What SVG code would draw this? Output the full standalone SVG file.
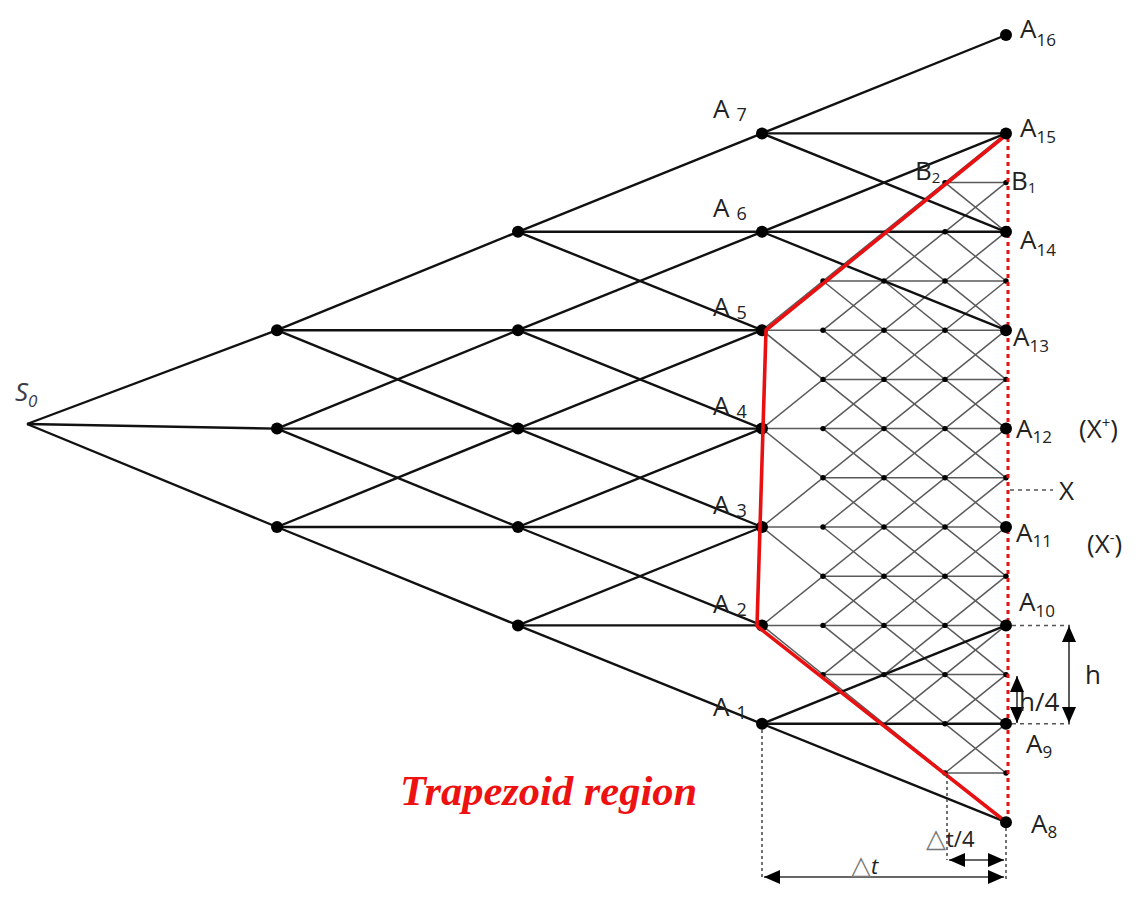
<svg xmlns="http://www.w3.org/2000/svg" width="1136" height="900" viewBox="0 0 1136 900">
<style>
.t{stroke:#111;stroke-width:2.4;fill:none}
.g{stroke:#5a5a5a;stroke-width:1.5;fill:none}
.bd{fill:#000}
.fn{fill:#000}
.lb{font-family:"Open Sans","DejaVu Sans",sans-serif;fill:#222;font-size:26px}
.sb{font-size:17px}
.dim{stroke:#333;stroke-width:1.6;fill:none}
.dot{stroke:#444;stroke-width:1.5;stroke-dasharray:3 3;fill:none}
.dash{stroke:#555;stroke-width:1.5;stroke-dasharray:4 4;fill:none}
</style>
<defs>
<marker id="ah" viewBox="0 0 16 14" refX="16" refY="7" markerWidth="16" markerHeight="14" markerUnits="userSpaceOnUse" orient="auto-start-reverse"><path d="M0,0 L16,7 L0,14 z" fill="#000"/></marker>
</defs>
<rect width="1136" height="900" fill="#fff"/>

<g id="lattice">
<line class="g" x1="945" y1="182.6" x2="1006" y2="182.6"/>
<line class="g" x1="884" y1="231.8" x2="1006" y2="231.8"/>
<line class="g" x1="823" y1="281" x2="1006" y2="281"/>
<line class="g" x1="762" y1="330.2" x2="1006" y2="330.2"/>
<line class="g" x1="823" y1="379.4" x2="1006" y2="379.4"/>
<line class="g" x1="762" y1="428.6" x2="1006" y2="428.6"/>
<line class="g" x1="823" y1="477.8" x2="1006" y2="477.8"/>
<line class="g" x1="762" y1="527" x2="1006" y2="527"/>
<line class="g" x1="823" y1="576.2" x2="1006" y2="576.2"/>
<line class="g" x1="762" y1="625.4" x2="1006" y2="625.4"/>
<line class="g" x1="823" y1="674.6" x2="1006" y2="674.6"/>
<line class="g" x1="884" y1="723.8" x2="1006" y2="723.8"/>
<line class="g" x1="945" y1="773" x2="1006" y2="773"/>
<line class="g" x1="762" y1="330.2" x2="1006" y2="527"/>
<line class="g" x1="762" y1="428.6" x2="1006" y2="625.4"/>
<line class="g" x1="762" y1="527" x2="1006" y2="723.8"/>
<line class="g" x1="762" y1="625.4" x2="1006" y2="822.2"/>
<line class="g" x1="823" y1="281" x2="1006" y2="428.6"/>
<line class="g" x1="823" y1="330.2" x2="1006" y2="477.8"/>
<line class="g" x1="823" y1="428.6" x2="1006" y2="576.2"/>
<line class="g" x1="823" y1="527" x2="1006" y2="674.6"/>
<line class="g" x1="823" y1="625.4" x2="1006" y2="773"/>
<line class="g" x1="884" y1="231.8" x2="1006" y2="330.2"/>
<line class="g" x1="884" y1="281" x2="1006" y2="379.4"/>
<line class="g" x1="945" y1="182.6" x2="1006" y2="231.8"/>
<line class="g" x1="945" y1="231.8" x2="1006" y2="281"/>
<line class="g" x1="762" y1="330.2" x2="1006" y2="133.4"/>
<line class="g" x1="762" y1="428.6" x2="1006" y2="231.8"/>
<line class="g" x1="762" y1="527" x2="1006" y2="330.2"/>
<line class="g" x1="762" y1="625.4" x2="1006" y2="428.6"/>
<line class="g" x1="823" y1="330.2" x2="1006" y2="182.6"/>
<line class="g" x1="823" y1="428.6" x2="1006" y2="281"/>
<line class="g" x1="823" y1="527" x2="1006" y2="379.4"/>
<line class="g" x1="823" y1="625.4" x2="1006" y2="477.8"/>
<line class="g" x1="823" y1="674.6" x2="1006" y2="527"/>
<line class="g" x1="884" y1="674.6" x2="1006" y2="576.2"/>
<line class="g" x1="884" y1="723.8" x2="1006" y2="625.4"/>
<line class="g" x1="945" y1="723.8" x2="1006" y2="674.6"/>
<line class="g" x1="945" y1="773" x2="1006" y2="723.8"/>
</g>

<g id="connectors">
<line class="t" x1="27" y1="424" x2="277" y2="330.2"/>
<line class="t" x1="27" y1="424" x2="277" y2="428.6"/>
<line class="t" x1="27" y1="424" x2="277" y2="527"/>
<line class="t" x1="277" y1="330.2" x2="518" y2="231.8"/>
<line class="t" x1="277" y1="330.2" x2="518" y2="330.2"/>
<line class="t" x1="277" y1="330.2" x2="518" y2="428.6"/>
<line class="t" x1="277" y1="428.6" x2="518" y2="330.2"/>
<line class="t" x1="277" y1="428.6" x2="518" y2="428.6"/>
<line class="t" x1="277" y1="428.6" x2="518" y2="527"/>
<line class="t" x1="277" y1="527" x2="518" y2="428.6"/>
<line class="t" x1="277" y1="527" x2="518" y2="527"/>
<line class="t" x1="277" y1="527" x2="518" y2="625.4"/>
<line class="t" x1="518" y1="231.8" x2="762" y2="133.4"/>
<line class="t" x1="518" y1="231.8" x2="762" y2="231.8"/>
<line class="t" x1="518" y1="231.8" x2="762" y2="330.2"/>
<line class="t" x1="518" y1="330.2" x2="762" y2="231.8"/>
<line class="t" x1="518" y1="330.2" x2="762" y2="330.2"/>
<line class="t" x1="518" y1="330.2" x2="762" y2="428.6"/>
<line class="t" x1="518" y1="428.6" x2="762" y2="330.2"/>
<line class="t" x1="518" y1="428.6" x2="762" y2="428.6"/>
<line class="t" x1="518" y1="428.6" x2="762" y2="527"/>
<line class="t" x1="518" y1="527" x2="762" y2="428.6"/>
<line class="t" x1="518" y1="527" x2="762" y2="527"/>
<line class="t" x1="518" y1="527" x2="762" y2="625.4"/>
<line class="t" x1="518" y1="625.4" x2="762" y2="527"/>
<line class="t" x1="518" y1="625.4" x2="762" y2="625.4"/>
<line class="t" x1="518" y1="625.4" x2="762" y2="723.8"/>
<line class="t" x1="762" y1="133.4" x2="1006" y2="35"/>
<line class="t" x1="762" y1="133.4" x2="1006" y2="133.4"/>
<line class="t" x1="762" y1="133.4" x2="1006" y2="231.8"/>
<line class="t" x1="762" y1="231.8" x2="1006" y2="133.4"/>
<line class="t" x1="762" y1="231.8" x2="1006" y2="231.8"/>
<line class="t" x1="762" y1="231.8" x2="1006" y2="330.2"/>
<line class="t" x1="762" y1="723.8" x2="1006" y2="625.4"/>
<line class="t" x1="762" y1="723.8" x2="1006" y2="723.8"/>
<line class="t" x1="762" y1="723.8" x2="1006" y2="822.2"/>
</g>

<g id="fine-nodes">
<g id="f1"><circle class="fn" cx="823" cy="281" r="2.7"/><circle class="fn" cx="823" cy="330.2" r="2.7"/><circle class="fn" cx="823" cy="379.4" r="2.7"/><circle class="fn" cx="823" cy="428.6" r="2.7"/><circle class="fn" cx="823" cy="477.8" r="2.7"/><circle class="fn" cx="823" cy="527" r="2.7"/><circle class="fn" cx="823" cy="576.2" r="2.7"/><circle class="fn" cx="823" cy="625.4" r="2.7"/><circle class="fn" cx="823" cy="674.6" r="2.7"/></g>
<g id="f2"><circle class="fn" cx="884" cy="281" r="2.7"/><circle class="fn" cx="884" cy="330.2" r="2.7"/><circle class="fn" cx="884" cy="379.4" r="2.7"/><circle class="fn" cx="884" cy="428.6" r="2.7"/><circle class="fn" cx="884" cy="477.8" r="2.7"/><circle class="fn" cx="884" cy="527" r="2.7"/><circle class="fn" cx="884" cy="576.2" r="2.7"/><circle class="fn" cx="884" cy="625.4" r="2.7"/><circle class="fn" cx="884" cy="674.6" r="2.7"/></g>
<g id="f3"><circle class="fn" cx="945" cy="231.8" r="2.7"/><circle class="fn" cx="945" cy="281" r="2.7"/><circle class="fn" cx="945" cy="330.2" r="2.7"/><circle class="fn" cx="945" cy="379.4" r="2.7"/><circle class="fn" cx="945" cy="428.6" r="2.7"/><circle class="fn" cx="945" cy="477.8" r="2.7"/><circle class="fn" cx="945" cy="527" r="2.7"/><circle class="fn" cx="945" cy="576.2" r="2.7"/><circle class="fn" cx="945" cy="625.4" r="2.7"/><circle class="fn" cx="945" cy="674.6" r="2.7"/><circle class="fn" cx="945" cy="723.8" r="2.7"/><circle class="fn" cx="945" cy="773" r="2.7"/></g>
<g id="f4"><circle class="fn" cx="1006" cy="281" r="2.7"/><circle class="fn" cx="1006" cy="379.4" r="2.7"/><circle class="fn" cx="1006" cy="477.8" r="2.7"/><circle class="fn" cx="1006" cy="576.2" r="2.7"/><circle class="fn" cx="1006" cy="674.6" r="2.7"/><circle class="fn" cx="1006" cy="773" r="2.7"/></g>
</g>

<g id="B2"><circle class="fn" cx="945" cy="182.6" r="2.7"/><text class="lb" x="915" y="180" font-size="21">B<tspan font-size="15" dy="3">2</tspan></text></g>
<g id="B1"><circle class="fn" cx="1006" cy="182.6" r="2.7"/><text class="lb" x="1011" y="190" font-size="21">B<tspan font-size="15" dy="3">1</tspan></text></g>

<g id="S0"><text x="15" y="401" font-family="'Open Sans',sans-serif" font-style="italic" font-size="26" fill="#3a3a48">S<tspan font-size="17" dy="6">0</tspan></text></g>

<g id="c1a"><circle class="bd" cx="277" cy="330.2" r="6"/></g>
<g id="c1b"><circle class="bd" cx="277" cy="428.6" r="6"/></g>
<g id="c1c"><circle class="bd" cx="277" cy="527" r="6"/></g>
<g id="c2a"><circle class="bd" cx="518" cy="231.8" r="6"/></g>
<g id="c2b"><circle class="bd" cx="518" cy="330.2" r="6"/></g>
<g id="c2c"><circle class="bd" cx="518" cy="428.6" r="6"/></g>
<g id="c2d"><circle class="bd" cx="518" cy="527" r="6"/></g>
<g id="c2e"><circle class="bd" cx="518" cy="625.4" r="6"/></g>

<g id="A7"><circle class="bd" cx="762" cy="133.4" r="6"/><text class="lb" x="713" y="118" font-size="30">A<tspan font-size="18" dx="7" dy="3">7</tspan></text></g>
<g id="A6"><circle class="bd" cx="762" cy="231.8" r="6"/><text class="lb" x="713" y="217" font-size="30">A<tspan font-size="18" dx="7" dy="3">6</tspan></text></g>
<g id="A5"><circle class="bd" cx="762" cy="330.2" r="6"/><text class="lb" x="713" y="316" font-size="30">A<tspan font-size="18" dx="7" dy="3">5</tspan></text></g>
<g id="A4"><circle class="bd" cx="762" cy="428.6" r="6"/><text class="lb" x="713" y="415" font-size="30">A<tspan font-size="18" dx="7" dy="3">4</tspan></text></g>
<g id="A3"><circle class="bd" cx="762" cy="527" r="6"/><text class="lb" x="713" y="514" font-size="30">A<tspan font-size="18" dx="7" dy="3">3</tspan></text></g>
<g id="A2"><circle class="bd" cx="762" cy="625.4" r="6"/><text class="lb" x="713" y="613" font-size="30">A<tspan font-size="18" dx="7" dy="3">2</tspan></text></g>
<g id="A1"><circle class="bd" cx="762" cy="723.8" r="6"/><text class="lb" x="713" y="716" font-size="30">A<tspan font-size="18" dx="7" dy="3">1</tspan></text></g>

<g id="trapezoid">
<polyline points="1006,135 766,330 757,626 1006,822" fill="none" stroke="#e81010" stroke-width="3.6" stroke-linejoin="round"/>
<line x1="1008" y1="138" x2="1008" y2="822" stroke="#e81010" stroke-width="3" stroke-dasharray="4 4"/>
</g>

<g id="A16"><circle class="bd" cx="1006" cy="35" r="6"/><text class="lb" x="1020" y="38">A<tspan class="sb" dy="8">16</tspan></text></g>
<g id="A15"><circle class="bd" cx="1006" cy="133.4" r="6"/><text class="lb" x="1020" y="137">A<tspan class="sb" dy="6">15</tspan></text></g>
<g id="A14"><circle class="bd" cx="1006" cy="231.8" r="6"/><text class="lb" x="1020" y="249">A<tspan class="sb" dy="7">14</tspan></text></g>
<g id="A13"><circle class="bd" cx="1006" cy="330.2" r="6"/><text class="lb" x="1013" y="346">A<tspan class="sb" dy="6">13</tspan></text></g>
<g id="A12"><circle class="bd" cx="1006" cy="428.6" r="6"/><text class="lb" x="1016" y="438">A<tspan class="sb" dy="5">12</tspan></text></g>
<g id="A11"><circle class="bd" cx="1006" cy="527" r="6"/><text class="lb" x="1016" y="542">A<tspan class="sb" dy="5">11</tspan></text></g>
<g id="A10"><circle class="bd" cx="1006" cy="625.4" r="6"/><text class="lb" x="1019" y="611">A<tspan class="sb" dy="6">10</tspan></text></g>
<g id="A9"><circle class="bd" cx="1006" cy="723.8" r="6"/><text class="lb" x="1026" y="753">A<tspan class="sb" dy="5">9</tspan></text></g>
<g id="A8"><circle class="bd" cx="1006" cy="822.2" r="6"/><text class="lb" x="1031" y="833">A<tspan class="sb" dy="5">8</tspan></text></g>

<g id="annotations">
<text class="lb" x="1079" y="438" font-size="27">(X<tspan font-size="15" dy="-10">+</tspan><tspan dy="10">)</tspan></text>
<line class="dash" x1="1010" y1="490" x2="1053" y2="490"/>
<text class="lb" x="1059" y="500" font-size="26">X</text>
<text class="lb" x="1087" y="553" font-size="27">(X<tspan font-size="15" dy="-10">-</tspan><tspan dy="10">)</tspan></text>

<line class="dash" x1="1012" y1="625.4" x2="1070" y2="625.4"/>
<line class="dash" x1="1012" y1="723.8" x2="1070" y2="723.8"/>
<line class="dim" x1="1069" y1="626" x2="1069" y2="723" marker-start="url(#ah)" marker-end="url(#ah)"/>
<text class="lb" x="1085" y="684" font-size="23">h</text>
<line class="dim" x1="1017" y1="676" x2="1017" y2="723" marker-start="url(#ah)" marker-end="url(#ah)"/>
<text class="lb" x="1019" y="711" font-size="22">h/4</text>

<line class="dot" x1="762" y1="730" x2="762" y2="880"/>
<line class="dot" x1="1006" y1="828" x2="1006" y2="880"/>
<line class="dot" x1="947" y1="775" x2="947" y2="860"/>
<line class="dim" x1="764" y1="877" x2="1004" y2="877" marker-start="url(#ah)" marker-end="url(#ah)"/>
<line class="dim" x1="949" y1="860" x2="1004" y2="860" marker-start="url(#ah)" marker-end="url(#ah)"/>
<text x="926" y="847" font-family="'Open Sans',sans-serif" font-size="22" fill="#222"><tspan font-family="'DejaVu Sans',sans-serif" font-size="26" fill="#777">△</tspan>t/4</text>
<text x="851" y="874" font-family="'Open Sans',sans-serif" font-size="22" fill="#222"><tspan font-family="'DejaVu Sans',sans-serif" font-size="26" fill="#777">△</tspan><tspan font-style="italic">t</tspan></text>

<text x="400" y="805" font-family="'Liberation Serif',serif" font-weight="bold" font-style="italic" font-size="42.5" fill="#ee1111">Trapezoid region</text>
</g>
</svg>
